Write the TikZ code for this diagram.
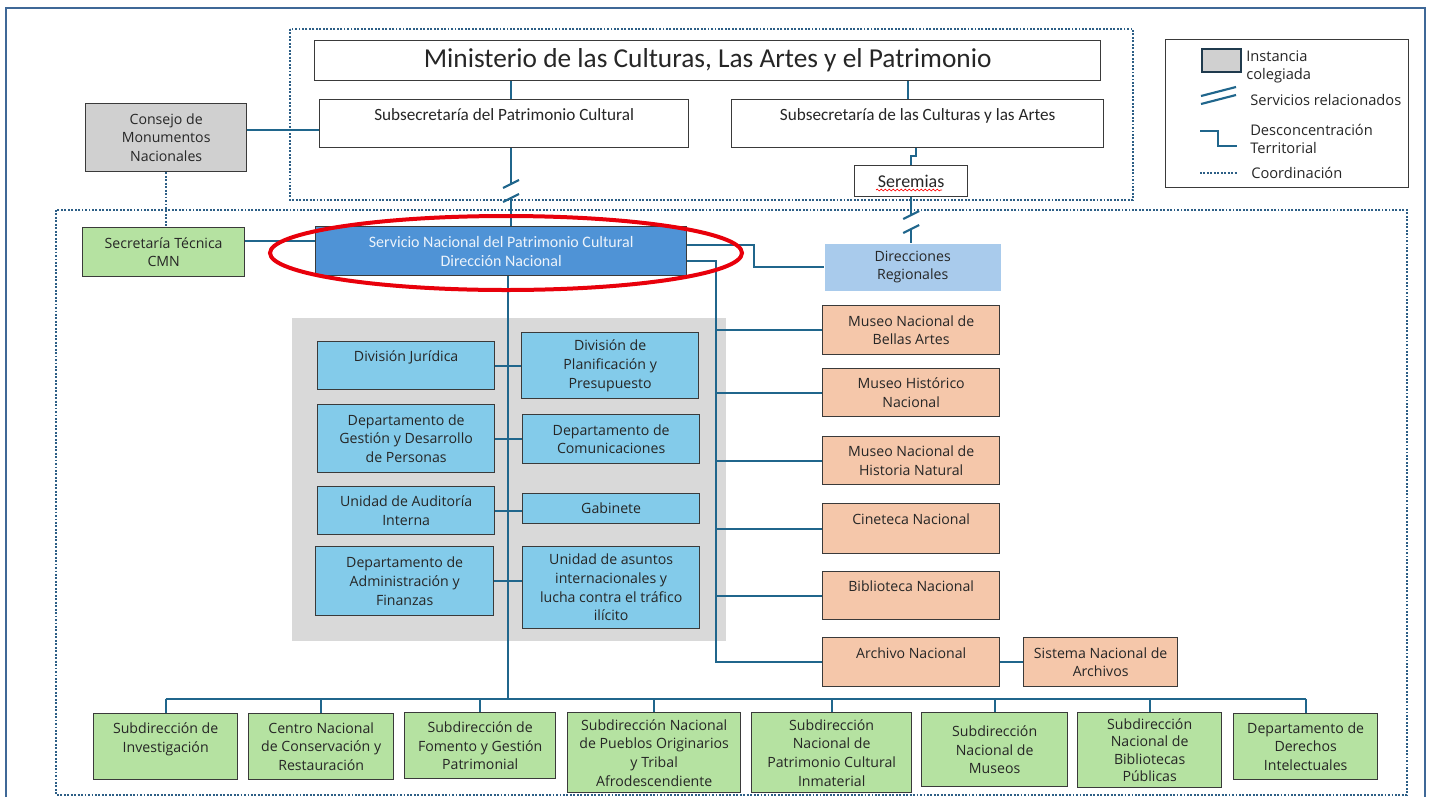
\documentclass[tikz,border=0pt]{standalone}
\usepackage{fontspec}
\setmainfont{Open Sans}
\newfontfamily\narrowf{Carlito}
\usetikzlibrary{calc,decorations.pathmorphing}
\definecolor{linec}{RGB}{32,102,140}
\definecolor{dotc}{RGB}{45,95,134}
\definecolor{framec}{RGB}{63,104,151}
\definecolor{borderc}{RGB}{58,58,58}
\definecolor{textc}{RGB}{38,38,38}
\definecolor{cmngray}{RGB}{208,208,208}
\definecolor{areagray}{RGB}{217,217,217}
\definecolor{greenf}{RGB}{181,226,161}
\definecolor{snpcf}{RGB}{79,147,214}
\definecolor{snpct}{RGB}{236,243,251}
\definecolor{drf}{RGB}{169,203,236}
\definecolor{lbluef}{RGB}{131,203,234}
\definecolor{peachf}{RGB}{245,199,170}
\definecolor{ringc}{RGB}{232,0,11}
\definecolor{legsqc}{RGB}{31,58,77}
\newcommand\mkbox[7]{\node[#2, anchor=north west, minimum width={0.75pt*(#5-#3)}, minimum height={0.75pt*(#6-#4)}] (#1) at (#3,#4) {#7};}
\begin{document}
\begin{tikzpicture}[x=0.75pt,y=-0.75pt,
  base/.style={draw=borderc, line width=1pt, align=center, inner sep=1pt, text=textc, font=\fontsize{10.6}{14}\selectfont},
  whitebox/.style={base, fill=white},
  narrowtxt/.style={font=\narrowf\fontsize{12.9}{14}\selectfont},
  graybox/.style={base, fill=cmngray},
  greenbox/.style={base, fill=greenf},
  snpcbox/.style={base, fill=snpcf, text=snpct, font=\narrowf\fontsize{12}{14}\selectfont},
  drbox/.style={base, draw=none, fill=drf},
  lbox/.style={base, fill=lbluef},
  peach/.style={base, fill=peachf},
  areabox/.style={draw=none, fill=areagray},
  legtext/.style={align=left, inner sep=0pt, text=textc, font=\fontsize{11}{13.5}\selectfont, anchor=west},
  conn/.style={draw=linec, line width=1.6pt},
  coordline/.style={draw=dotc, line width=1.4pt, dash pattern=on 1.4pt off 1.2pt},
  outerframe/.style={draw=framec, line width=2pt},
  redring/.style={draw=ringc, line width=3pt}
]
\useasboundingbox (0,0) rectangle (1429,797);
% frames
\draw[outerframe] (6,797) -- (6,8) -- (1425,8) -- (1425,797);
\draw[coordline] (290,29) rectangle (1133,200);
\draw[coordline] (56,210) rectangle (1407,795);
% gray area
\mkbox{area}{areabox}{292}{318}{726}{641}{}
% top
\mkbox{min}{whitebox,font=\narrowf\fontsize{20.5}{22}\selectfont}{314}{40}{1100}{80}{Ministerio de las Culturas, Las Artes y el Patrimonio}
\mkbox{subpc}{whitebox,narrowtxt}{319}{99}{688}{147}{Subsecretaría del Patrimonio Cultural\\\mbox{}}
\mkbox{subca}{whitebox,narrowtxt}{731}{99}{1103}{147}{Subsecretaría de las Culturas y las Artes\\\mbox{}}
\mkbox{ser}{whitebox,narrowtxt,font=\narrowf\fontsize{13.5}{14}\selectfont}{854}{165}{967}{196}{Seremias}
\mkbox{cmn}{graybox}{85}{103}{246}{171}{Consejo de\\Monumentos\\Nacionales}
\mkbox{sec}{greenbox}{82}{227}{244}{276}{Secretaría Técnica\\CMN}
\mkbox{snpc}{snpcbox}{315}{226}{686}{275}{Servicio Nacional del Patrimonio Cultural\\Dirección Nacional}
\mkbox{dr}{drbox}{824}{243}{1000}{290}{Direcciones\\Regionales}
% inner divisions
\mkbox{jur}{lbox}{317}{341}{494}{389}{División Jurídica\\\mbox{}}
\mkbox{ges}{lbox}{317}{404}{494}{472}{Departamento de\\Gestión y Desarrollo\\de Personas}
\mkbox{aud}{lbox}{317}{486}{494}{534}{Unidad de Auditoría\\Interna}
\mkbox{adm}{lbox}{315}{546}{493}{615}{Departamento de\\Administración y\\Finanzas}
\mkbox{pla}{lbox}{521}{332}{698}{398}{División de\\Planificación y\\Presupuesto}
\mkbox{com}{lbox}{522}{414}{699}{463}{Departamento de\\Comunicaciones}
\mkbox{gab}{lbox}{522}{493}{699}{523}{Gabinete}
\mkbox{uai}{lbox}{522}{546}{699}{628}{Unidad de asuntos\\internacionales y\\lucha contra el tráfico\\ilícito}
% museums
\mkbox{mnba}{peach}{822}{305}{999}{354}{Museo Nacional de\\Bellas Artes}
\mkbox{mhn}{peach}{822}{368}{999}{416}{Museo Histórico\\Nacional}
\mkbox{mnhn}{peach}{822}{436}{999}{484}{Museo Nacional de\\Historia Natural}
\mkbox{cin}{peach}{822}{503}{999}{553}{Cineteca Nacional\\\mbox{}}
\mkbox{bib}{peach}{822}{571}{999}{619}{Biblioteca Nacional\\\mbox{}}
\mkbox{arc}{peach}{822}{637}{999}{686}{Archivo Nacional\\\mbox{}}
\mkbox{sna}{peach}{1023}{637}{1177}{686}{Sistema Nacional de\\Archivos}
% bottom row
\mkbox{b1}{greenbox}{93}{713}{237}{779}{Subdirección de\\Investigación\\\mbox{}}
\mkbox{b2}{greenbox}{248}{713}{393}{779}{Centro Nacional\\de Conservación y\\Restauración}
\mkbox{b3}{greenbox}{404}{712}{555}{778}{Subdirección de\\Fomento y Gestión\\Patrimonial}
\mkbox{b4}{greenbox}{567}{712}{740}{792}{Subdirección Nacional\\de Pueblos Originarios\\y Tribal\\Afrodescendiente}
\mkbox{b5}{greenbox}{751}{712}{911}{792}{Subdirección\\Nacional de\\Patrimonio Cultural\\Inmaterial}
\mkbox{b6}{greenbox}{921}{712}{1067}{786}{Subdirección\\Nacional de\\Museos}
\mkbox{b7}{greenbox,font=\fontsize{10.6}{13}\selectfont}{1077}{712}{1221}{787}{Subdirección\\Nacional de\\Bibliotecas\\Públicas}
\mkbox{b8}{greenbox}{1233}{713}{1377}{779}{Departamento de\\Derechos\\Intelectuales}
% legend
\mkbox{leg}{base,fill=white,draw=borderc,line width=0.8pt}{1165}{39}{1408}{187}{}
\mkbox{legsq}{base,fill=cmngray,draw=legsqc,line width=1.8pt}{1201}{48}{1240}{71}{}
\node[legtext] (lt1) at (1246,67) {Instancia\\colegiada};
\node[legtext] (lt2) at (1250,100) {Servicios relacionados};
\node[legtext] (lt3) at (1250,139) {Desconcentración\\Territorial};
\node[legtext] (lt4) at (1251,173) {Coordinación};
\draw[conn] (1201,96) -- (1236,87);
\draw[conn] (1201,104) -- (1236,95);
\draw[conn] (1200,131) -- (1218,131) -- (1218,146) -- (1237,146);
\draw[coordline] (1200,173) -- (1237,173);
% helper coordinates
\coordinate (cx508) at (508,0);
\coordinate (cx511) at (511,0);
\coordinate (cx908) at (908,0);
\coordinate (cx916) at (916,0);
\coordinate (cx716) at (716,0);
\coordinate (cx754) at (754,0);
\coordinate (cy130) at (0,130);
\coordinate (cy156) at (0,156);
\coordinate (cy241) at (0,241);
\coordinate (cy245) at (0,245);
\coordinate (cy261) at (0,261);
\coordinate (bus) at (0,699);
\coordinate (s1) at (511,184);
\coordinate (s2) at (511,198);
\coordinate (s3) at (0,215);
\coordinate (s4) at (0,229);
% connectors top
\draw[conn] (min.south -| cx511) -- (subpc.north -| cx511);
\draw[conn] (min.south -| cx908) -- (subca.north -| cx908);
\draw[conn] (subpc.south -| s1) -- (s1);
\draw[conn] ([shift={(-8,4)}]s1) -- ([shift={(8,-4)}]s1);
\draw[conn] ([shift={(-8,4)}]s2) -- ([shift={(8,-4)}]s2);
\draw[conn] (s2) -- (snpc.north -| s2);
\draw[conn] (subca.south -| cx916) -- (cx916 |- cy156) -- (ser.north |- cy156) -- (ser.north);
\draw[conn] (ser.south) -- (ser.south |- s3);
\draw[conn] ([shift={(-8,4)}]ser.south |- s3) -- ([shift={(8,-4)}]ser.south |- s3);
\draw[conn] ([shift={(-8,4)}]ser.south |- s4) -- ([shift={(8,-4)}]ser.south |- s4);
\draw[conn] (ser.south |- s4) -- (dr.north -| ser.south);
\draw[red, line width=0.5pt, decorate, decoration={snake, amplitude=0.7pt, segment length=3pt}] (876,190) -- (942,190);
% CMN
\draw[conn] (cmn.east |- cy130) -- (subpc.west |- cy130);
\draw[coordline] (cmn.south) -- (cmn.south |- sec.north);
\draw[conn] (sec.east |- cy241) -- (snpc.west |- cy241);
% SNPC right
\draw[conn] (snpc.east |- cy245) -- (cx754 |- cy245) -- (cx754 |- dr.west) -- (dr.west);
\draw[conn] (snpc.east |- cy261) -- (cx716 |- cy261) -- (cx716 |- arc.west) -- (arc.west);
\foreach \m in {mnba,mhn,mnhn,cin,bib} {\draw[conn] (cx716 |- \m.west) -- (\m.west);}
\draw[conn] (arc.east) -- (sna.west);
% central trunk
\draw[conn] (snpc.south -| cx508) -- (cx508 |- bus);
\draw[conn] (jur.east) -- (jur.east -| pla.west);
\draw[conn] (ges.east) -- (ges.east -| com.west);
\draw[conn] (aud.east) -- (aud.east -| gab.west);
\draw[conn] (adm.east) -- (adm.east -| uai.west);
% bottom bus
\draw[conn] (b1.north |- bus) -- (b8.north |- bus);
\foreach \b in {b1,b2,b3,b4,b5,b6,b7,b8} {\draw[conn] (\b.north |- bus) -- (\b.north);}
% highlight
\draw[redring] (506,253) ellipse [x radius=236, y radius=37];
\end{tikzpicture}
\end{document}
